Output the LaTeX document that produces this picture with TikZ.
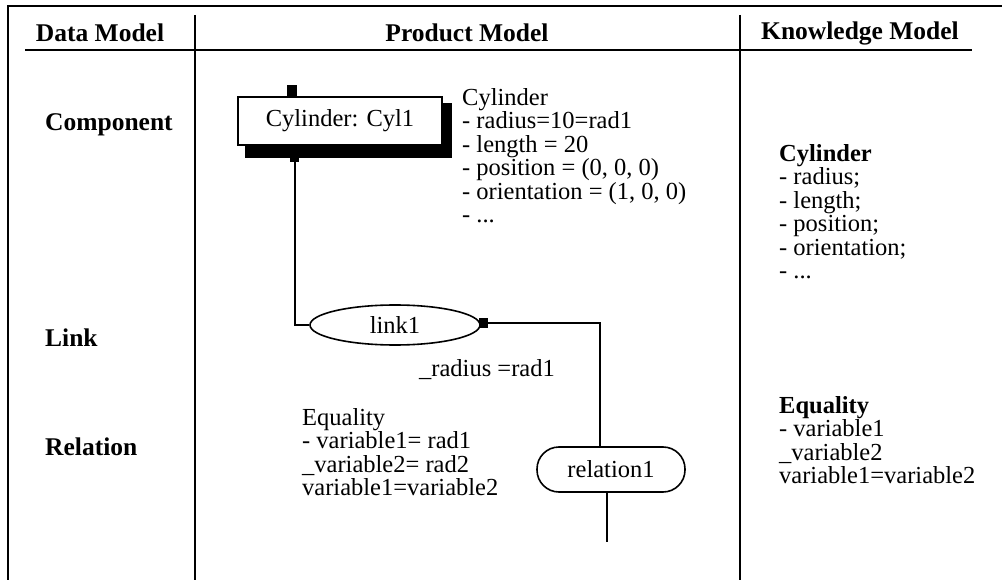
\documentclass[tikz,border=0pt]{standalone}
\usepackage{fontspec}
\setmainfont{Liberation Serif}
\usetikzlibrary{shapes.geometric}
\begin{document}
\begin{tikzpicture}[x=1pt,y=-1pt,
  fnt/.style={font=\fontsize{24.5}{23.5}\selectfont},
  txt/.style={fnt, align=left, inner sep=0pt, anchor=north west},
  hdr/.style={font=\fontsize{25.5}{23.5}\selectfont\bfseries, inner sep=0pt},
  rule/.style={line width=1.6pt},
  conn/.style={line width=1.6pt},
  ]
\useasboundingbox (0,0) rectangle (1002,580);
% frame
\draw[rule] (1002,6) -- (8,6) -- (8,580);
\draw[rule] (195,15) -- (195,580);
\draw[rule] (740,15) -- (740,580);
\draw[line width=2.4pt] (25,50) -- (972,50);
% headers
\node[hdr] (h1) at (100,33) {Data Model};
\node[hdr] (h2) at (467,33) {Product Model};
\node[hdr] (h3) at (860,33) {Knowledge Model};
% row labels
\node[hdr, anchor=west] (r1) at (45,125) {Component};
\node[hdr, anchor=west] (r2) at (45,338) {Link};
\node[hdr, anchor=west] (r3) at (45,447) {Relation};
% cylinder component
\fill (245,103) rectangle (452,158);
\node[draw, line width=1.2pt, fill=white, minimum width=204pt, minimum height=48pt,
      fnt, inner sep=0pt] (cyl) at (340,121) {Cylinder: Cyl1};
\fill (287,85) rectangle (297,97);
\fill (290,157) rectangle (299,162);
\coordinate (cylbot) at (295,160);
% link
\node[draw, ellipse, line width=1.6pt, minimum width=170pt, minimum height=40pt,
      fnt, inner sep=0pt] (link) at (395,325) {link1};
\fill (479,318) rectangle (488,328);
\coordinate (linkr) at (488,323);
% relation
\node[draw, rounded corners=22pt, line width=1.6pt, minimum width=148pt, minimum height=45pt,
      fnt, inner sep=0pt] (rel) at (611,469.5) {relation1};
\coordinate (relend) at (607,542);
% connectors
\draw[conn] (cylbot) |- (link.west);
\draw[conn] (linkr) -| (rel.north -| 600,0);
\draw[conn] (rel.south -| relend) -- (relend);
% texts
\node[txt] (cyltxt) at (462,88) {Cylinder\\- radius=10=rad1\\- length = 20\\- position = (0, 0, 0)\\- orientation = (1, 0, 0)\\- ...};
\node[fnt, inner sep=0pt] (rad) at (487,370) {\_radius =rad1};
\node[txt] (eqtxt) at (302,408) {Equality\\- variable1= rad1\\\_variable2= rad2\\variable1=variable2};
\node[txt] (kcyl) at (779,144) {\textbf{Cylinder}\\- radius;\\- length;\\- position;\\- orientation;\\- ...};
\node[txt] (keq) at (779,396) {\textbf{Equality}\\- variable1\\\_variable2\\variable1=variable2};
\end{tikzpicture}
\end{document}
